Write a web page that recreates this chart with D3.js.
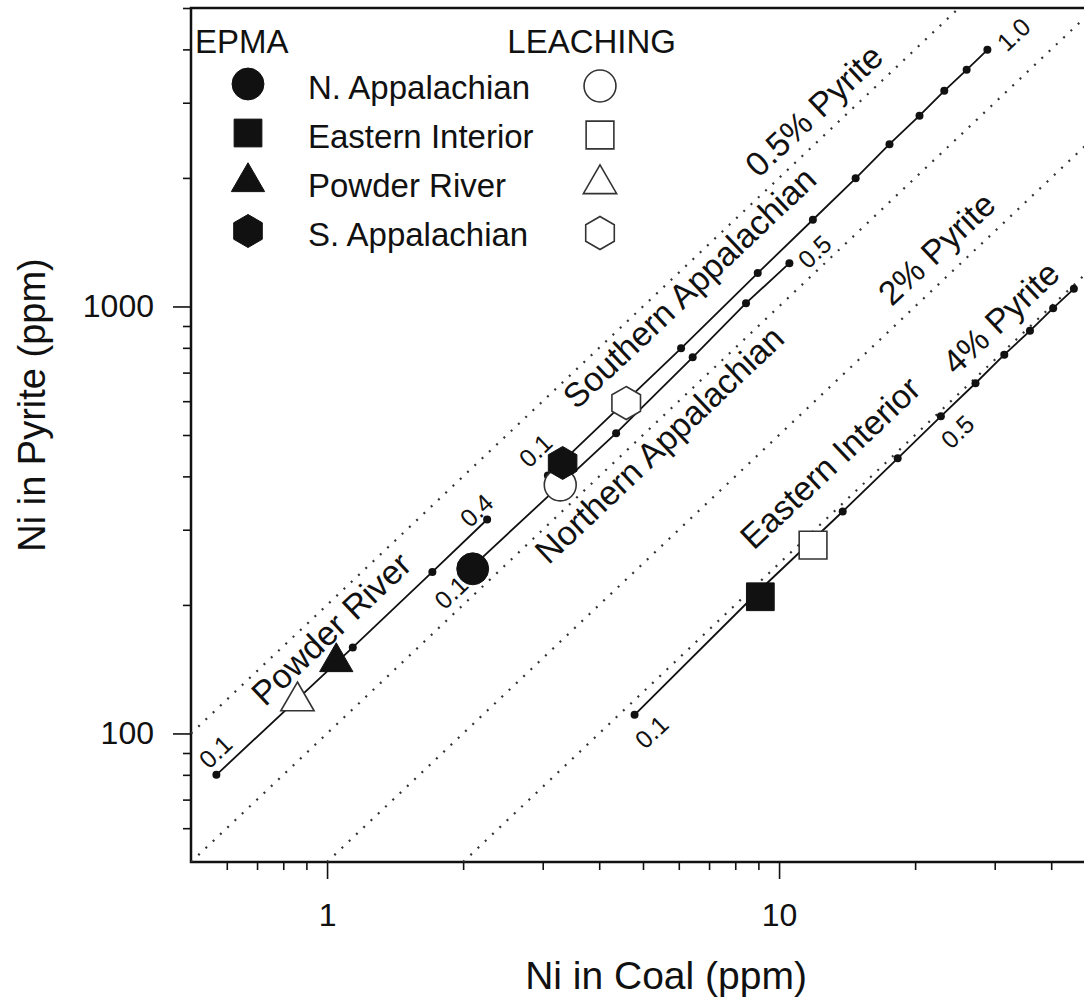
<!DOCTYPE html>
<html>
<head>
<meta charset="utf-8">
<script src="https://cdn.jsdelivr.net/npm/d3@7"></script>
<style>
  body { margin: 0; background: #fff; }
  svg { display: block; font-family: 'Liberation Sans', Arial, sans-serif; }
</style>
</head>
<body>
<div class="canvas"></div>
<script>
const WIDTH = 1084;
const HEIGHT = 1000;
const margin = { top: 8, left: 191, bottom: 138 };
// the plot frame runs a little past the right edge of the picture, like the original
const graphWidth = 904;
const graphHeight = HEIGHT - margin.top - margin.bottom;

// axis ticks
const xMajorTicks = [1, 10];
const xMinorTicks = [0.6, 0.7, 0.8, 0.9, 2, 3, 4, 5, 6, 7, 8, 9, 20, 30, 40, 50];
const yMajorTicks = [100, 1000];
const yMinorTicks = [60, 70, 80, 90, 200, 300, 400, 500, 600, 700, 800, 900, 2000, 3000, 4000, 5000];

// % pyrite reference lines (end points, ppm)
const pyriteLineCoal = [[0.5, 25], [0.5, 50], [1, 50], [2, 50]];
const pyriteLineNi = [[100, 5000], [50, 5000], [50, 2500], [50, 1250]];

// model lines, one dot per 0.1 step
const prCoal = [0.569, 1.14, 1.71, 2.26];
const prPyrite = [80, 159, 239, 317];
const naCoal = [2.15, 4.36, 6.44, 8.45, 10.54];
const naPyrite = [252, 505, 760, 1018, 1263];
const saCoal = [3.08, 6.07, 8.97, 11.88, 14.77, 17.55, 20.45, 23.2, 26.0, 28.9];
const saPyrite = [402, 798, 1197, 1596, 1996, 2399, 2797, 3199, 3583, 3990];
const eiCoal = [4.79, 9.2, 13.83, 18.3, 22.8, 27.2, 31.5, 35.9, 40.4, 44.9];
const eiPyrite = [110.6, 220, 331, 441, 553, 661, 771, 877, 991, 1100];

// measured points
const regions = ['N. Appalachian', 'Eastern Interior', 'Powder River', 'S. Appalachian'];
const shapes = ['circle', 'square', 'triangle', 'hexagon'];
const epmaCoal = [2.1, 9.09, 1.048, 3.32];
const epmaPyrite = [243, 209, 147, 430];
const leachCoal = [3.28, 11.89, 0.86, 4.59];
const leachPyrite = [382, 276, 119, 594];

// labels along the lines
const lineLabels = ['0.5% Pyrite', 'Southern Appalachian', 'Northern Appalachian', '2% Pyrite', '4% Pyrite', 'Eastern Interior', 'Powder River'];
const lineLabelCoal = [11.93, 6.33, 5.43, 22.3, 30.9, 12.97, 1.02];
const lineLabelNi = [2878, 1108, 475, 1367, 942, 431, 176];

const stepLabels = ['0.1', '0.4', '0.1', '0.5', '0.1', '1.0', '0.1', '0.5'];
const stepLabelCoal = [0.566, 2.14, 1.88, 11.98, 2.89, 33.0, 5.22, 24.8];
const stepLabelNi = [90.7, 333, 214, 1345, 460, 4337, 100.9, 509];

// svg and graph
const svg = d3.select('.canvas')
  .append('svg')
    .attr('width', WIDTH)
    .attr('height', HEIGHT);

const graph = svg.append('g')
  .attr('transform', `translate(${margin.left}, ${margin.top})`);

svg.append('defs').append('clipPath')
    .attr('id', 'plot-clip')
  .append('rect')
    .attr('width', graphWidth)
    .attr('height', graphHeight);

// scales
const x = d3.scaleLog()
  .domain([0.5, 50])
  .range([0, graphWidth]);

const y = d3.scaleLog()
  .domain([50, 5000])
  .range([graphHeight, 0]);

// slope-1 lines on this log-log grid
const angle = Math.atan2(y(1000) - y(100), x(10) - x(1)) * 180 / Math.PI;

// axes
const tickFont = '32px';
const styleAxis = g => {
  g.select('.domain').remove();
  g.selectAll('.tick line').attr('stroke', '#111').attr('stroke-width', 1.6);
  g.selectAll('.tick text')
    .attr('fill', '#111')
    .style('font-size', tickFont)
    .style('font-family', "'Liberation Sans', Arial, sans-serif");
};

graph.append('g')
  .attr('transform', `translate(0, ${graphHeight})`)
  .call(d3.axisBottom(x).tickValues(xMinorTicks).tickSize(8).tickFormat(''))
  .call(styleAxis);

graph.append('g')
  .attr('transform', `translate(0, ${graphHeight})`)
  .call(d3.axisBottom(x).tickValues(xMajorTicks).tickSize(17).tickPadding(24).tickFormat(d3.format('d')))
  .call(styleAxis);

graph.append('g')
  .call(d3.axisLeft(y).tickValues(yMinorTicks).tickSize(8).tickFormat(''))
  .call(styleAxis);

graph.append('g')
  .call(d3.axisLeft(y).tickValues(yMajorTicks).tickSize(18).tickPadding(19).tickFormat(d3.format('d')))
  .call(styleAxis);

// frame
graph.append('rect')
  .attr('width', graphWidth)
  .attr('height', graphHeight)
  .attr('fill', 'none')
  .attr('stroke', '#111')
  .attr('stroke-width', 2.5);

// axis titles
svg.append('text')
  .attr('x', 666)
  .attr('y', 989)
  .attr('text-anchor', 'middle')
  .style('font-size', '39px')
  .attr('fill', '#111')
  .text('Ni in Coal (ppm)');

svg.append('text')
  .attr('transform', 'translate(45, 405) rotate(-90)')
  .attr('text-anchor', 'middle')
  .style('font-size', '38px')
  .attr('fill', '#111')
  .text('Ni in Pyrite (ppm)');

const plot = graph.append('g')
  .attr('clip-path', 'url(#plot-clip)');

// dotted % pyrite lines
pyriteLineCoal.forEach((coal, i) => {
  plot.append('line')
    .attr('x1', x(coal[0]))
    .attr('y1', y(pyriteLineNi[i][0]))
    .attr('x2', x(coal[1]))
    .attr('y2', y(pyriteLineNi[i][1]))
    .attr('stroke', '#333')
    .attr('stroke-width', 2.2)
    .attr('stroke-dasharray', '2,8');
});

// model lines with step dots
const modelLines = [
  [prCoal, prPyrite],
  [naCoal, naPyrite],
  [saCoal, saPyrite],
  [eiCoal, eiPyrite]
].map(([c, p]) => c.map((v, i) => ({ coal: v, ni: p[i] })));

const line = d3.line()
  .x(d => x(d.coal))
  .y(d => y(d.ni));

modelLines.forEach(pts => {
  plot.append('path')
    .datum(pts)
    .attr('fill', 'none')
    .attr('stroke', '#111')
    .attr('stroke-width', 1.8)
    .attr('d', line);

  plot.selectAll(null)
    .data(pts)
    .enter().append('circle')
      .attr('cx', d => x(d.coal))
      .attr('cy', d => y(d.ni))
      .attr('r', 4)
      .attr('fill', '#111');
});

// symbols
const symbolPath = shape => {
  if (shape === 'hexagon') {
    const r = 16.5;
    const pts = d3.range(6).map(i => {
      const a = Math.PI / 3 * i - Math.PI / 2;
      return [r * Math.cos(a), r * Math.sin(a)];
    });
    return d3.line()(pts) + 'Z';
  }
  const types = { circle: d3.symbolCircle, square: d3.symbolSquare, triangle: d3.symbolTriangle };
  const areas = { circle: 800, square: 770, triangle: 480 };
  return d3.symbol().type(types[shape]).size(areas[shape])();
};

const drawSymbol = (parent, shape, cx, cy, filled) => {
  parent.append('path')
    .attr('transform', `translate(${cx}, ${cy})`)
    .attr('d', symbolPath(shape))
    .attr('fill', filled ? '#111' : '#fff')
    .attr('stroke', filled ? '#111' : '#333')
    .attr('stroke-width', filled ? 1 : 1.6);
};

// leaching (open) first, EPMA (filled) on top
regions.forEach((r, i) => {
  drawSymbol(plot, shapes[i], x(leachCoal[i]), y(leachPyrite[i]), false);
});
regions.forEach((r, i) => {
  drawSymbol(plot, shapes[i], x(epmaCoal[i]), y(epmaPyrite[i]), true);
});

// rotated labels
lineLabels.forEach((t, i) => {
  plot.append('text')
    .attr('transform', `translate(${x(lineLabelCoal[i])}, ${y(lineLabelNi[i])}) rotate(${angle})`)
    .attr('text-anchor', 'middle')
    .attr('dominant-baseline', 'central')
    .style('font-size', '34px')
    .attr('fill', '#111')
    .text(t);
});

stepLabels.forEach((t, i) => {
  plot.append('text')
    .attr('transform', `translate(${x(stepLabelCoal[i])}, ${y(stepLabelNi[i])}) rotate(${angle})`)
    .attr('text-anchor', 'middle')
    .attr('dominant-baseline', 'central')
    .style('font-size', '25px')
    .attr('fill', '#111')
    .text(t);
});

// legend
const legend = svg.append('g');
const legendTop = 84;
const rowStep = 49;

legend.append('text')
  .attr('x', 195)
  .attr('y', 53)
  .style('font-size', '33px')
  .attr('fill', '#111')
  .text('EPMA');

legend.append('text')
  .attr('x', 676)
  .attr('y', 53)
  .attr('text-anchor', 'end')
  .style('font-size', '33px')
  .attr('fill', '#111')
  .text('LEACHING');

regions.forEach((r, i) => {
  const ry = legendTop + i * rowStep;
  drawSymbol(legend, shapes[i], 248, ry, true);
  drawSymbol(legend, shapes[i], 600, ry + 2, false);
  legend.append('text')
    .attr('x', 308)
    .attr('y', ry + 15)
    .style('font-size', '33px')
    .attr('fill', '#111')
    .text(r);
});
</script>
</body>
</html>
